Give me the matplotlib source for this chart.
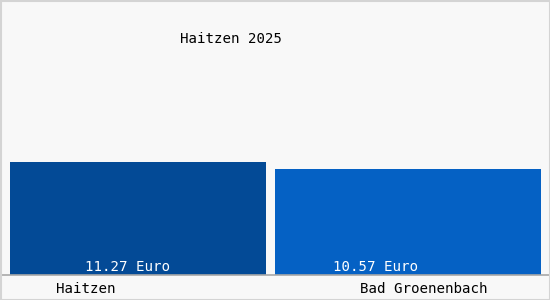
import matplotlib
matplotlib.use("Agg")
import matplotlib.pyplot as plt
from matplotlib.patches import Rectangle

categories = ["Haitzen", "Bad Groenenbach"]
values = [11.27, 10.57]
value_labels = ["11.27 Euro", "10.57 Euro"]
title = "Haitzen 2025"

colors = ["#034a96", "#0561c4"]
widths = [0.948, 0.985]
value_offsets = [-0.039, -0.122]
cat_offsets = [-0.193, 0.059]

W, H = 550, 300
fig = plt.figure(figsize=(W / 100, H / 100), dpi=100)
fig.patch.set_facecolor("#f8f8f8")

ax = fig.add_axes([0, 25 / H, 1, 275 / H])
ax.set_facecolor("#f8f8f8")
x = list(range(len(categories)))
ax.bar(x, values, width=widths, color=colors, linewidth=0)
ax.set_xlim(-0.511, 1.526)
ax.set_ylim(0, 27.42)
for s in ax.spines.values():
    s.set_visible(False)
ax.set_xticks([])
ax.set_yticks([])
ax.axhline(0, color="#a8a8a8", linewidth=1.2, clip_on=False)

font = dict(family="DejaVu Sans Mono", fontsize=10.2)
for i, (lab, off) in enumerate(zip(value_labels, value_offsets)):
    ax.text(i + off, 0.05, lab, color="white", ha="center", va="bottom", **font)
for i, (cat, off) in enumerate(zip(categories, cat_offsets)):
    ax.text(i + off, -1.35, cat, color="black", ha="center", va="center", **font)

fig.text(231 / W, 1 - 39 / H, title, ha="center", va="center", color="black", **font)

fig.patches.append(Rectangle((0.5 / W, 0.5 / H), 1 - 1 / W, 1 - 1 / H, transform=fig.transFigure,
                             fill=False, edgecolor="#d4d4d4", linewidth=1.5))

fig.savefig("out.png", dpi=100, facecolor=fig.get_facecolor())
